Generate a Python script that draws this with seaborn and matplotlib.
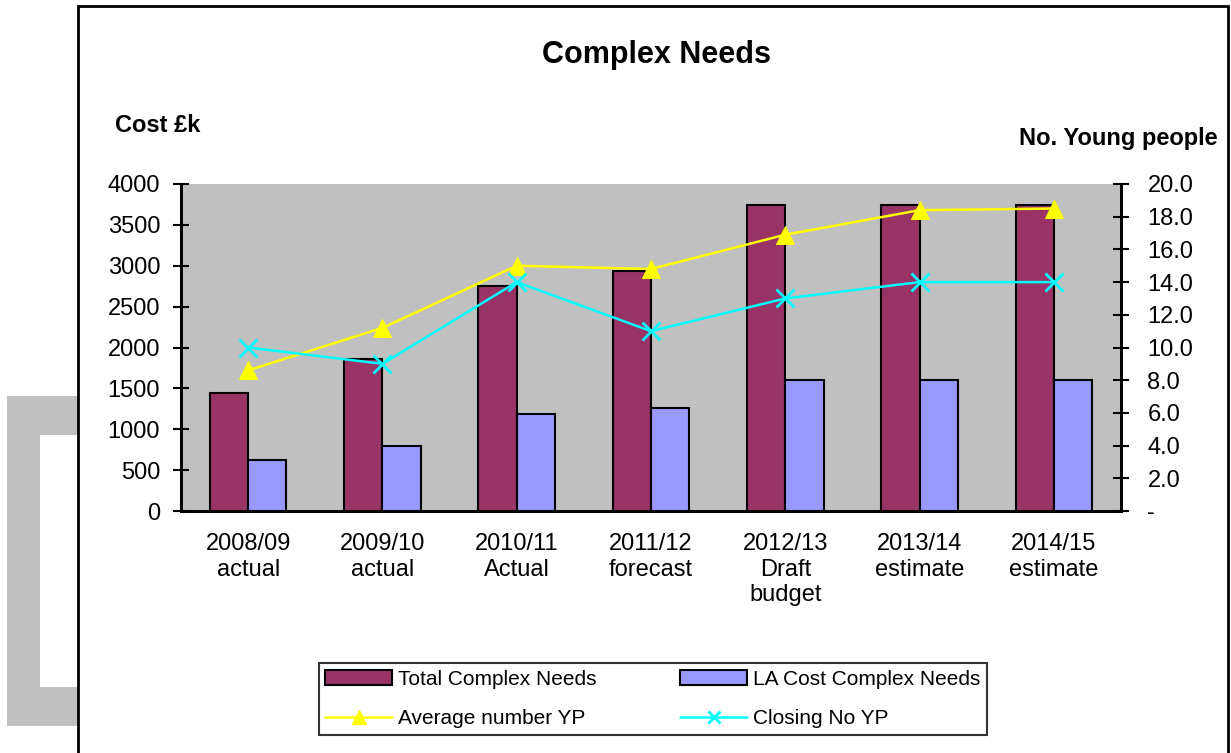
import numpy as np
import pandas as pd
import matplotlib
matplotlib.use("Agg")
import matplotlib.pyplot as plt
from matplotlib.patches import Rectangle
from matplotlib.lines import Line2D
from matplotlib.patches import Patch
import seaborn as sns

# data
categories = ["2008/09\nactual", "2009/10\nactual", "2010/11\nActual", "2011/12\nforecast",
              "2012/13\nDraft\nbudget", "2013/14\nestimate", "2014/15\nestimate"]
total_cost = [1440, 1855, 2750, 2935, 3740, 3740, 3740]
la_cost = [620, 800, 1190, 1260, 1600, 1600, 1600]
avg_yp = [8.6, 11.2, 15.0, 14.8, 16.9, 18.4, 18.5]
closing_yp = [10.0, 9.0, 14.0, 11.0, 13.0, 14.0, 14.0]

left_ticks = list(range(0, 4001, 500))
right_ticks = list(range(0, 21, 2))
right_labels = ["-"] + [f"{v:.1f}" for v in right_ticks[1:]]

bar_names = ["Total Complex Needs", "LA Cost Complex Needs"]
bar_colors = ["#993366", "#9999FF"]

df = pd.DataFrame({
    "year": categories * 2,
    "series": [bar_names[0]] * len(categories) + [bar_names[1]] * len(categories),
    "cost": total_cost + la_cost,
})

sns.set_theme(style="white")
plt.rcParams["font.family"] = ["Liberation Sans", "DejaVu Sans"]
plt.rcParams["text.color"] = "black"
plt.rcParams["xtick.color"] = "black"
plt.rcParams["ytick.color"] = "black"

fig = plt.figure(figsize=(12.31, 7.53), dpi=100)
ax = fig.add_axes([181 / 1231, 1 - 511 / 753, (1121 - 181) / 1231, (511 - 184) / 753])
ax.set_facecolor("#C0C0C0")

sns.barplot(data=df, x="year", y="cost", hue="series", palette=bar_colors, saturation=1,
            width=0.57, edgecolor="black", linewidth=1.5, ax=ax, legend=False)

ax.set_xlim(-0.5, len(categories) - 0.5)
ax.set_ylim(0, 4000)
ax.set_yticks(left_ticks)
ax.set_yticklabels([str(v) for v in left_ticks], fontsize=17)
ax.set_xlabel("")
ax.set_ylabel("")

# category labels at centres, tick marks at the boundaries
ax.set_xticks(np.arange(len(categories)))
ax.set_xticklabels(categories, fontsize=17)
ax.set_xticks(np.arange(len(categories) + 1) - 0.5, minor=True)
ax.tick_params(axis="x", which="major", length=0, pad=16)
ax.tick_params(axis="x", which="minor", direction="inout", length=12, width=1.5, color="black")
ax.tick_params(axis="y", direction="inout", length=12, width=1.5, color="black", pad=9, left=True)

for side in ["left", "bottom", "right"]:
    ax.spines[side].set_visible(True)
    ax.spines[side].set_color("black")
    ax.spines[side].set_linewidth(2)
ax.spines["top"].set_visible(False)

ax2 = ax.twinx()
x_pos = np.arange(len(categories))
sns.lineplot(x=x_pos, y=avg_yp, color="#FFFF00", marker="^", markersize=13,
             markeredgecolor="#FFFF00", linewidth=1.8, ax=ax2)
sns.lineplot(x=x_pos, y=closing_yp, color="#00FFFF", marker="x", markersize=13,
             markeredgecolor="#00FFFF", markeredgewidth=2, linewidth=1.8, ax=ax2)
ax2.set_ylim(0, 20)
ax2.set_yticks(right_ticks)
ax2.set_yticklabels(right_labels, fontsize=17)
ax2.tick_params(axis="y", direction="inout", length=12, width=1.5, color="black", pad=13, right=True)
ax2.set_xlim(-0.5, len(categories) - 0.5)
for side in ["left", "bottom", "right"]:
    ax2.spines[side].set_color("black")
    ax2.spines[side].set_linewidth(2)
ax2.spines["top"].set_visible(False)

# grey decoration on the left and the outer chart frame
fig.patches.append(Rectangle((7 / 1231, 1 - 726 / 753), 71 / 1231, 330 / 753,
                             transform=fig.transFigure, facecolor="#C0C0C0", edgecolor="none", zorder=0))
fig.patches.append(Rectangle((40 / 1231, 1 - 687 / 753), 38 / 1231, 252 / 753,
                             transform=fig.transFigure, facecolor="white", edgecolor="none", zorder=0))
fig.patches.append(Rectangle((78 / 1231, -0.05), (1228 - 78) / 1231, 1.05 - 6 / 753,
                             transform=fig.transFigure, facecolor="none", edgecolor="black",
                             linewidth=2, zorder=1))

fig.text(657 / 1231, 1 - 55 / 753, "Complex Needs", ha="center", va="center",
         fontsize=22, fontweight="bold")
fig.text(115 / 1231, 1 - 125 / 753, "Cost £k", ha="left", va="center",
         fontsize=17, fontweight="bold")
fig.text(1218 / 1231, 1 - 138 / 753, "No. Young people", ha="right", va="center",
         fontsize=17, fontweight="bold")

handles = [
    Patch(facecolor=bar_colors[0], edgecolor="black", linewidth=1.5),
    Line2D([], [], color="#FFFF00", marker="^", markersize=10, linewidth=1.8),
    Patch(facecolor=bar_colors[1], edgecolor="black", linewidth=1.5),
    Line2D([], [], color="#00FFFF", marker="x", markersize=9, markeredgewidth=2, linewidth=1.8),
]
labels = [bar_names[0], "Average number YP", bar_names[1], "Closing No YP"]
leg = fig.legend(handles, labels, ncol=2, loc="center", bbox_to_anchor=(653 / 1231, 1 - 699 / 753),
                 fontsize=15, frameon=True, fancybox=False, shadow=False, edgecolor="black",
                 handlelength=3.2, handleheight=0.7, columnspacing=4.0, labelspacing=1.0,
                 borderpad=0.3, handletextpad=0.3)
leg.get_frame().set_linewidth(1.5)

fig.savefig("out.png", dpi=100, facecolor="white")
